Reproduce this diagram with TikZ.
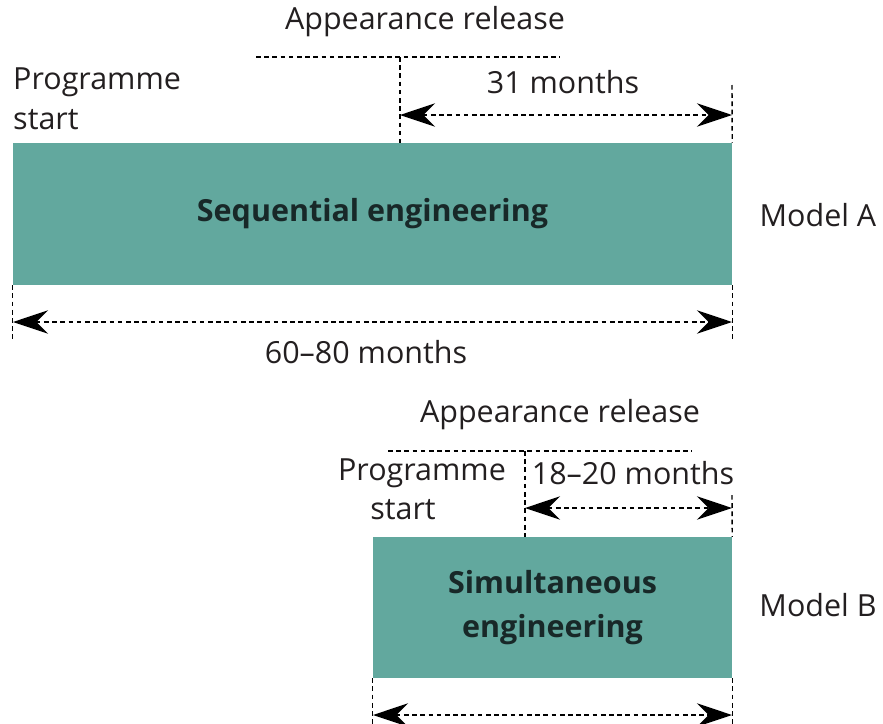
\documentclass[tikz,border=0pt]{standalone}
\usepackage{fontspec}
\setmainfont{Open Sans}
\usetikzlibrary{arrows.meta,positioning}
\definecolor{tealbox}{RGB}{98,168,158}
\definecolor{textgray}{RGB}{35,31,32}
\definecolor{bartext}{RGB}{24,40,40}
\begin{document}
\begin{tikzpicture}[x=0.03cm,y=-0.03cm,font=\fontsize{26}{32}\selectfont,
txt/.style={inner sep=0pt,text=textgray},
dimline/.style={line width=1.2pt,dash pattern=on 4pt off 3pt},
span/.style={dimline,{Stealth[length=30pt,width=20pt,inset=10pt]}-{Stealth[length=30pt,width=20pt,inset=10pt]}},
bar/.style={fill=tealbox,inner sep=0pt,align=center,text=bartext,font=\fontsize{26}{38}\selectfont\bfseries}]
\useasboundingbox (0,0) rectangle (883,724);
% model A
\node[bar,minimum width=21.57cm,minimum height=4.26cm] (seqA) at (372.5,214) {Sequential engineering};
\node[txt] (modelA) at (818,215) {Model A};
\node[txt,anchor=west] (progA) at (13,82) {Programme};
\node[txt,anchor=west] (startA) at (13,120) {start};
\node[txt] (relA) at (425,22) {Appearance release};
\node[txt] (durA) at (563,82) {31 months};
\node[txt] (totA) at (366,352) {60--80 months};
\coordinate (relAl) at (256,57);
\coordinate (relAr) at (560,57);
\coordinate (relAx) at (400,57);
\coordinate (durAl) at (400,115);
\coordinate (durAr) at (732,115);
\coordinate (tickA) at (732,85);
\coordinate (totAl) at (13,322);
\coordinate (totAr) at (732,322);
\draw[dimline] (relAl) -- (relAr);
\draw[dimline] (relAx) -- (relAx |- seqA.north);
\draw[dimline] (tickA) -- (seqA.north east);
\draw[dimline] (seqA.south west) -- ++(0,55);
\draw[dimline] (seqA.south east) -- ++(0,55);
\draw[span] (durAl) -- (durAr);
\draw[span] (totAl) -- (totAr);
% model B
\node[bar,minimum width=10.77cm,minimum height=4.23cm] (simB) at (552.5,607.5) {Simultaneous\\engineering};
\node[txt] (modelB) at (818,605) {Model B};
\node[txt] (progB) at (422,473) {Programme};
\node[txt] (startB) at (403,510) {start};
\node[txt] (relB) at (560,415) {Appearance release};
\node[txt] (durB) at (633,473) {18--20 months};
\coordinate (relBl) at (388,451);
\coordinate (relBr) at (692,451);
\coordinate (relBx) at (525,451);
\coordinate (durBl) at (525,508);
\coordinate (durBr) at (732,508);
\coordinate (tickB) at (732,495);
\coordinate (totBl) at (373,715);
\coordinate (totBr) at (732,715);
\draw[dimline] (relBl) -- (relBr);
\draw[dimline] (relBx) -- (relBx |- simB.north);
\draw[dimline] (tickB) -- (simB.north east);
\draw[dimline] (simB.south west) -- ++(0,46);
\draw[dimline] (simB.south east) -- ++(0,46);
\draw[span] (durBl) -- (durBr);
\draw[span] (totBl) -- (totBr);
\end{tikzpicture}
\end{document}
